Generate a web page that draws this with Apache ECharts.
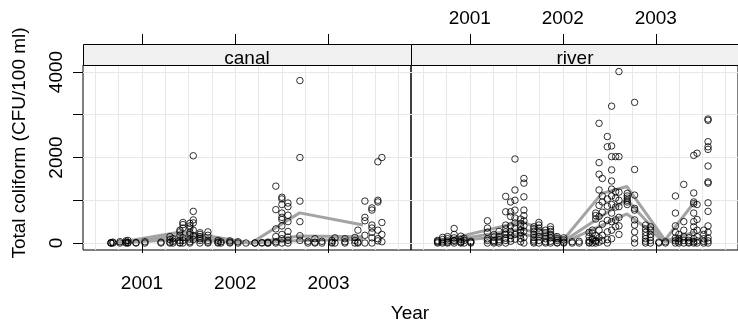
<!DOCTYPE html>
<html>
<head>
<meta charset="utf-8">
<script src="https://cdn.jsdelivr.net/npm/echarts@6/dist/echarts.min.js"></script>
<style>html,body{margin:0;padding:0;background:#fff}#c{width:738px;height:331px}</style>
</head>
<body>
<div id="c"></div>
<script>
// ---------- data ----------
const panelNames = ['canal', 'river'];
const yearTicks = [2001, 2002, 2003];
const yTicks = [0, 1000, 2000, 3000, 4000];
const yLabelValues = [0, 2000, 4000];
const gridYears = [2000.5, 2000.75, 2001, 2001.25, 2001.5, 2001.75, 2002, 2002.25, 2002.5, 2002.75, 2003, 2003.25, 2003.5, 2003.75];

const canalDates = [2000.668, 2000.689, 2000.764, 2000.829, 2000.850, 2000.936, 2001.032, 2001.204, 2001.300, 2001.332,
  2001.407, 2001.439, 2001.514, 2001.550, 2001.622, 2001.707, 2001.815, 2001.847, 2001.943, 2002.029,
  2002.115, 2002.211, 2002.286, 2002.350, 2002.435, 2002.500, 2002.565, 2002.693, 2002.779, 2002.854,
  2002.929, 2003.036, 2003.069, 2003.176, 2003.283, 2003.315, 2003.390, 2003.465, 2003.529, 2003.572];
const canalValues = [
  [0, 0, 10], [0, 20], [30, 0], [50, 0, 20], [60, 10, 0], [0, 10], [0, 30], [0, 20], [0, 80, 150, 20], [0, 100, 40],
  [10, 180, 260, 60, 300, 0], [430, 480, 350, 120, 0, 60], [200, 350, 250, 90, 30, 0, 400, 460], [2040, 740, 540, 470, 300, 170, 80], [240, 150, 60, 0, 100, 200], [260, 180, 60, 0, 20], [60, 0, 20], [30, 0], [0, 20, 50], [0, 30],
  [0], [0, 0], [0, 10], [0, 20, 0], [330, 150, 30, 0, 1330, 780], [1070, 1030, 900, 700, 550, 400, 200, 100, 0, 600], [935, 650, 500, 270, 140, 60, 0, 850], [3800, 2000, 980, 500, 170, 60], [0, 40], [100, 0, 20],
  [0, 40], [0, 20, 60], [0, 120], [0, 30, 100], [0, 130, 60], [300, 20, 0], [600, 980, 520, 180, 0], [820, 770, 420, 250, 120, 0, 350], [1900, 1000, 960, 300, 100, 50], [2000, 480, 200, 30]
];

const riverDates = [2000.654, 2000.707, 2000.761, 2000.832, 2000.904, 2000.939, 2001.011, 2001.190, 2001.260, 2001.314,
  2001.386, 2001.439, 2001.486, 2001.547, 2001.582, 2001.689, 2001.743, 2001.815, 2001.868, 2001.940,
  2002.011, 2002.101, 2002.176, 2002.283, 2002.318, 2002.354, 2002.390, 2002.425, 2002.479, 2002.525,
  2002.568, 2002.604, 2002.693, 2002.772, 2002.890, 2002.943, 2003.033, 2003.104, 2003.211, 2003.248,
  2003.301, 2003.355, 2003.408, 2003.444, 2003.516, 2003.562];
const riverValues = [
  [0, 20, 40, 60], [0, 30, 80, 130], [0, 50, 100, 150, 20], [0, 40, 120, 200, 340, 60], [0, 30, 80, 160, 20], [0, 60, 110], [0, 40, 20], [0, 100, 250, 350, 520, 60], [0, 60, 140, 200, 30], [0, 80, 150, 270, 40],
  [0, 60, 200, 330, 420, 730, 1090, 110, 260], [100, 270, 400, 730, 960, 620, 180, 40], [1965, 1240, 1000, 770, 585, 470, 350, 200, 90], [560, 460, 380, 300, 240, 180, 100, 30], [1510, 1400, 1080, 770, 640, 520, 400, 280, 130, 0], [380, 330, 270, 200, 130, 70, 0, 30], [480, 420, 350, 250, 150, 60, 0], [300, 240, 160, 100, 30, 0], [380, 320, 270, 200, 120, 40, 0], [150, 100, 60, 10, 0],
  [120, 70, 20, 0], [0, 30], [0, 40], [0, 20, 60, 150, 250], [0, 80, 230, 300, 100], [0, 60, 170, 560, 640, 700, 40], [2800, 1880, 1610, 1240, 880, 620, 300, 120, 20], [1510, 1100, 960, 720, 440, 180, 60], [2490, 2250, 1030, 860, 530, 260, 80, 0], [3200, 2270, 2020, 1710, 1450, 1260, 1100, 900, 700, 500, 300, 100],
  [2020, 1200, 1050, 840, 540, 380], [4010, 2020, 1190, 1000, 850, 600, 400, 200], [1160, 1100, 1050, 1000, 960, 900], [3290, 1720, 1120, 810, 770, 540, 420, 260, 100, 0], [420, 330, 250, 170, 100, 40, 0], [380, 300, 200, 130, 60, 0], [0, 20], [0, 30], [1100, 700, 400, 250, 120, 50, 0], [200, 100, 40, 0],
  [1370, 500, 300, 150, 60, 0], [120, 60, 20, 0], [2050, 1170, 960, 920, 700, 500, 380, 250, 100, 30, 0], [2100, 900, 550, 300, 150, 50, 0], [300, 200, 100, 40, 0], [2900, 2870, 2370, 2250, 2190, 1800, 1430, 1400, 940, 740, 400, 250, 120, 50, 0]
];

// site average lines: [year, value]
const canalLine1 = [[2000.72, 0], [2001.43, 265], [2002.17, 0], [2002.69, 705], [2003.37, 420]];
const canalLine2 = [[2000.72, 0], [2001.43, 180], [2002.17, 0], [2002.69, 165], [2003.37, 145]];
const canalLine3 = [[2000.72, 0], [2001.43, 90], [2002.17, 0], [2002.69, 60], [2003.37, 90]];
const riverLine1 = [[2000.66, 30], [2001.56, 500], [2002.02, 110], [2002.42, 1160], [2002.69, 1320], [2003.10, 70], [2003.42, 970]];
const riverLine2 = [[2000.66, 15], [2001.56, 330], [2002.02, 60], [2002.69, 1020], [2002.77, 820], [2003.10, 40], [2003.42, 260]];
const riverLine3 = [[2000.66, 0], [2001.56, 210], [2002.02, 20], [2002.69, 680], [2003.10, 30], [2003.42, 90]];

// ---------- build ----------
function pts(dates, vals) {
  const out = [];
  dates.forEach((d, i) => vals[i].forEach(v => out.push([d, v])));
  return out;
}
const canalPoints = pts(canalDates, canalValues);
const riverPoints = pts(riverDates, riverValues);

const FONT = '"Liberation Sans", Arial, Helvetica, sans-serif';
const FS = 19;
const XMIN = 2000.368, XMAX = 2003.884;
const YMIN = -163.7, YMAX = 4163.7;
const PL = [83, 411], PW = 328, PT = 65, PH = 185, STRIP = 21;

const chart = echarts.init(document.getElementById('c'), null, {renderer: 'canvas'});

const grids = PL.map(l => ({left: l, top: PT, width: PW, height: PH, show: true, borderColor: '#000', borderWidth: 1, backgroundColor: 'transparent', containLabel: false}));

function xAx(g, pos, opts) {
  return Object.assign({
    type: 'value', gridIndex: g, position: pos, min: XMIN, max: XMAX,
    axisLine: {show: false},
    axisTick: {show: true, length: 10, inside: false, customValues: yearTicks, lineStyle: {color: '#000', width: 1}},
    axisLabel: {show: false},
    splitLine: {show: false}
  }, opts);
}
const xLabelStyle = {fontFamily: FONT, fontSize: FS, color: '#000'};
const xAxes = [
  xAx(0, 'bottom', {axisLabel: Object.assign({show: true, customValues: yearTicks, margin: 24, formatter: v => String(Math.round(v))}, xLabelStyle)}),
  xAx(0, 'top', {offset: STRIP}),
  xAx(0, 'bottom', {axisTick: {show: false, customValues: gridYears}, splitLine: {show: true, lineStyle: {color: '#e8e8e8', width: 1}}}),
  xAx(1, 'bottom', {}),
  xAx(1, 'top', {offset: STRIP, axisLabel: Object.assign({show: true, customValues: yearTicks, margin: 16, formatter: v => String(Math.round(v))}, xLabelStyle)}),
  xAx(1, 'bottom', {axisTick: {show: false, customValues: gridYears}, splitLine: {show: true, lineStyle: {color: '#e8e8e8', width: 1}}})
];
const yAxes = [
  {type: 'value', gridIndex: 0, position: 'left', min: YMIN, max: YMAX,
   axisLine: {show: false},
   axisTick: {show: true, length: 10, inside: false, customValues: yTicks, lineStyle: {color: '#000'}},
   axisLabel: {show: true, customValues: yLabelValues, rotate: 90, margin: 17, fontFamily: FONT, fontSize: FS, color: '#000', formatter: v => String(Math.round(v))},
   splitLine: {show: true, lineStyle: {color: '#e8e8e8', width: 1}}},
  {type: 'value', gridIndex: 1, position: 'left', min: YMIN, max: YMAX,
   axisLine: {show: false},
   axisTick: {show: false, customValues: yTicks},
   axisLabel: {show: false},
   splitLine: {show: true, lineStyle: {color: '#e8e8e8', width: 1}}}
];

function lineSeries(data, xi, yi) {
  return {type: 'line', xAxisIndex: xi, yAxisIndex: yi, data: data, showSymbol: false, symbol: 'none', silent: true,
    lineStyle: {color: '#a3a3a3', width: 3}, z: 2, animation: false};
}
function pointSeries(data, xi, yi) {
  return {type: 'scatter', xAxisIndex: xi, yAxisIndex: yi, data: data, symbol: 'circle', symbolSize: 6.5, silent: true,
    itemStyle: {color: 'rgba(0,0,0,0)', borderColor: '#000', borderWidth: 1}, z: 3, animation: false};
}

const series = [
  lineSeries(canalLine1, 0, 0), lineSeries(canalLine2, 0, 0), lineSeries(canalLine3, 0, 0),
  pointSeries(canalPoints, 0, 0),
  lineSeries(riverLine1, 3, 1), lineSeries(riverLine2, 3, 1), lineSeries(riverLine3, 3, 1),
  pointSeries(riverPoints, 3, 1)
];

const graphics = [];
PL.forEach((l, i) => {
  graphics.push({type: 'rect', shape: {x: l + 0.5, y: PT - STRIP + 0.5, width: PW, height: STRIP}, style: {fill: '#f0f0f0', stroke: '#000', lineWidth: 1}, z: 10});
  graphics.push({type: 'text', x: l + PW / 2, y: PT - 6.5, style: {text: panelNames[i], font: FS + 'px ' + FONT, fill: '#000', textAlign: 'center', textVerticalAlign: 'middle'}, z: 11});
});
graphics.push({type: 'text', x: 410, y: 314, style: {text: 'Year', font: FS + 'px ' + FONT, fill: '#000', textAlign: 'center', textVerticalAlign: 'middle'}, z: 11});
graphics.push({type: 'text', x: 20, y: 143, rotation: Math.PI / 2, style: {text: 'Total coliform (CFU/100 ml)', font: FS + 'px ' + FONT, fill: '#000', textAlign: 'center', textVerticalAlign: 'middle'}, z: 11});

chart.setOption({
  animation: false,
  backgroundColor: '#fff',
  grid: grids,
  xAxis: xAxes,
  yAxis: yAxes,
  series: series,
  graphic: graphics
});
</script>
</body>
</html>
